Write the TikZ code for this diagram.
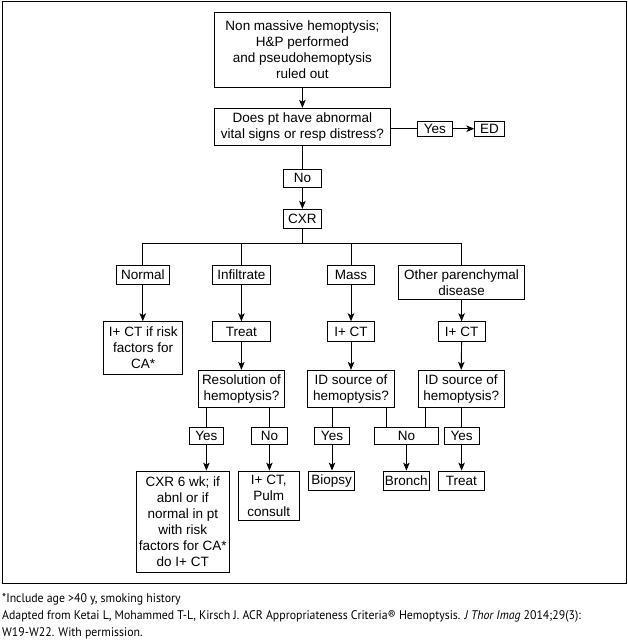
\documentclass[tikz,border=0pt]{standalone}
\usepackage{fontspec}
\setmainfont{Liberation Sans}
\newfontfamily\footfont[FakeStretch=0.945]{PT Sans}
\usetikzlibrary{arrows.meta}
\begin{document}
\begin{tikzpicture}[x=1pt,y=-1pt,
  bx/.style={draw, line width=0.9pt, inner sep=0pt, align=center, font=\fontsize{13.5}{16}\selectfont},
  arr/.style={-{Stealth[length=8pt,width=6.5pt,inset=2pt]}, line width=0.9pt},
  ln/.style={line width=0.9pt},
  ft/.style={anchor=base west, inner sep=0pt, font=\footfont\fontsize{12.5}{17}\selectfont}]
\useasboundingbox (0,0) rectangle (627,643);
\draw[line width=1pt] (2,1) rectangle (626,583.3);
% level 0
\node[bx, minimum width=176pt, minimum height=75pt] (top) at (302.4,49.8) {Non massive hemoptysis;\\H\&P performed\\and pseudohemoptysis\\ruled out};
\node[bx, minimum width=176pt, minimum height=37pt] (q1) at (302.4,126.8) {Does pt have abnormal\\vital signs or resp distress?};
\node[bx, minimum width=34.4pt, minimum height=14.7pt] (yes1) at (434.8,128.7) {Yes};
\node[bx, minimum width=29.6pt, minimum height=14.7pt] (ed) at (489.6,128.7) {ED};
\node[bx, minimum width=38pt, minimum height=18pt] (no1) at (302.4,178.3) {No};
\node[bx, minimum width=38pt, minimum height=18.7pt] (cxr) at (302.4,218.7) {CXR};
\coordinate (h) at (302.4,243);
% level 1
\node[bx, minimum width=52.8pt, minimum height=18.6pt] (normal) at (142.8,275) {Normal};
\node[bx, minimum width=58pt, minimum height=18.6pt] (infil) at (241.4,275) {Infiltrate};
\node[bx, minimum width=46.8pt, minimum height=18.6pt] (mass) at (351,275) {Mass};
\node[bx, minimum width=126pt, minimum height=33.6pt] (other) at (461.6,282.5) {Other parenchymal\\disease};
% level 2
\node[bx, minimum width=79.2pt, minimum height=52.6pt] (ictn) at (143.2,348) {I+ CT if risk\\factors for\\CA*};
\node[bx, minimum width=58pt, minimum height=19.6pt] (treat1) at (241.4,331.5) {Treat};
\node[bx, minimum width=46.8pt, minimum height=19.6pt] (ictm) at (351,331.5) {I+ CT};
\node[bx, minimum width=46.8pt, minimum height=19.6pt] (icto) at (461.6,331.5) {I+ CT};
% level 3
\node[bx, minimum width=86pt, minimum height=37pt] (res) at (241.4,388.8) {Resolution of\\hemoptysis?};
\node[bx, minimum width=86.8pt, minimum height=37pt] (idm) at (351,388.8) {ID source of\\hemoptysis?};
\node[bx, minimum width=85.6pt, minimum height=37pt] (ido) at (461.2,388.8) {ID source of\\hemoptysis?};
% level 4
\node[bx, minimum width=34.5pt, minimum height=17pt] (yesr) at (206.4,435.8) {Yes};
\node[bx, minimum width=35.2pt, minimum height=17pt] (nor) at (269.4,435.8) {No};
\node[bx, minimum width=34.8pt, minimum height=17pt] (yesm) at (332,435.8) {Yes};
\node[bx, minimum width=64pt, minimum height=17pt] (nos) at (406.4,435.8) {No};
\node[bx, minimum width=35.2pt, minimum height=17pt] (yeso) at (461.6,435.8) {Yes};
% level 5
\node[bx, minimum width=92.8pt, minimum height=101.3pt] (cxr6) at (182.8,521.7) {CXR 6 wk; if\\abnl or if\\normal in pt\\with risk\\factors for CA*\\do I+ CT};
\node[bx, minimum width=60.8pt, minimum height=49.3pt] (pulm) at (268.8,495.7) {I+ CT,\\Pulm\\consult};
\node[bx, minimum width=46.4pt, minimum height=19.3pt] (biopsy) at (331.6,480.7) {Biopsy};
\node[bx, minimum width=46pt, minimum height=19.3pt] (bronch) at (406.2,480.7) {Bronch};
\node[bx, minimum width=46pt, minimum height=19.3pt] (treat2) at (461.4,480.7) {Treat};
% connectors
\draw[arr] (top.south) -- (q1.north);
\draw[ln] (q1.east |- yes1.west) -- (yes1.west);
\draw[arr] (yes1.east) -- (ed.west);
\draw[ln] (q1.south) -- (no1.north);
\draw[arr] (no1.south) -- (cxr.north);
\draw[ln] (cxr.south) -- (h);
\draw[ln] (normal.north |- h) -- (other.north |- h);
\draw[ln] (normal.north |- h) -- (normal.north);
\draw[ln] (infil.north |- h) -- (infil.north);
\draw[ln] (mass.north |- h) -- (mass.north);
\draw[ln] (other.north |- h) -- (other.north);
\draw[arr] (normal.south) -- (normal.south |- ictn.north);
\draw[arr] (infil.south) -- (treat1.north);
\draw[arr] (mass.south) -- (ictm.north);
\draw[arr] (other.south) -- (icto.north);
\draw[arr] (treat1.south) -- (res.north);
\draw[arr] (ictm.south) -- (idm.north);
\draw[arr] (icto.south) -- (ido.north);
\draw[ln] (yesr.north |- res.south) -- (yesr.north);
\draw[ln] (nor.north |- res.south) -- (nor.north);
\draw[ln] (yesm.north |- idm.south) -- (yesm.north);
\draw[ln] ([xshift=-20pt]nos.north |- idm.south) -- ([xshift=-20pt]nos.north);
\draw[ln] ([xshift=19.2pt]nos.north |- ido.south) -- ([xshift=19.2pt]nos.north);
\draw[ln] (yeso.north |- ido.south) -- (yeso.north);
\draw[arr] (yesr.south) -- (yesr.south |- cxr6.north);
\draw[arr] (nor.south) -- (nor.south |- pulm.north);
\draw[arr] (yesm.south) -- (yesm.south |- biopsy.north);
\draw[arr] (nos.south) -- (nos.south |- bronch.north);
\draw[arr] (yeso.south) -- (yeso.south |- treat2.north);
% footer
\node[ft] (f1) at (2,602.5) {*Include age >40 y, smoking history};
\node[ft] (f2) at (2,619.7) {Adapted from Ketai L, Mohammed T-L, Kirsch J. ACR Appropriateness Criteria® Hemoptysis. \textit{J Thor Imag} 2014;29(3):};
\node[ft] (f3) at (2,636.7) {W19-W22. With permission.};
\end{tikzpicture}
\end{document}
